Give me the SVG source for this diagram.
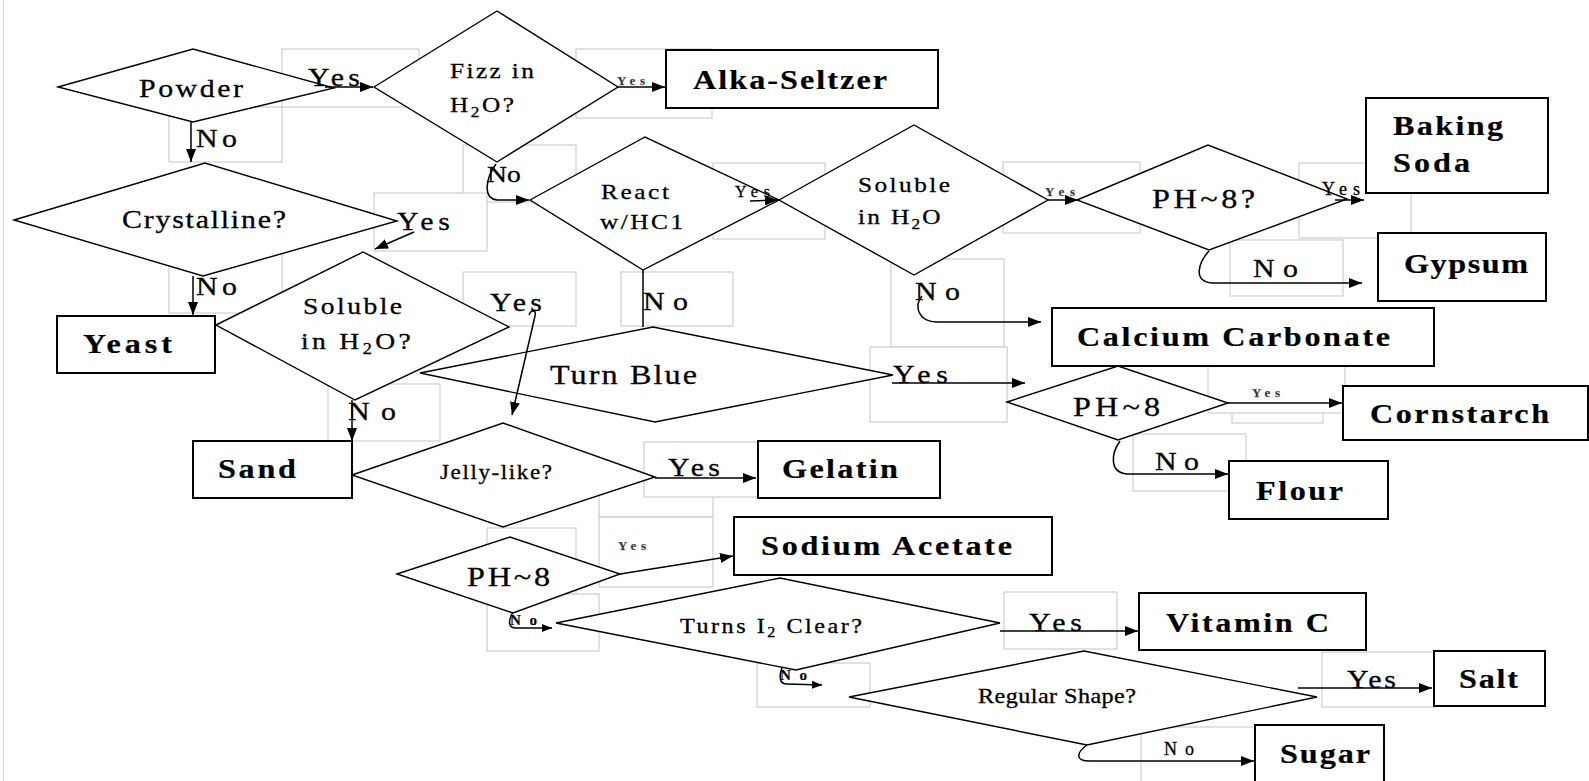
<svg xmlns="http://www.w3.org/2000/svg" width="1589" height="781" viewBox="0 0 1589 781">
<defs>
<style>
.g{fill:#fff;stroke:#c4c4c4;stroke-width:1}
.d{fill:#fff;stroke:#000;stroke-width:1.4}
.n{fill:#fff;stroke:#000;stroke-width:2}
.c{fill:none;stroke:#000;stroke-width:1.5}
.t{font-family:"Liberation Serif","Times New Roman",serif;fill:#000;stroke:#000;stroke-width:0.3}
.b{font-weight:bold;stroke-width:0.2}
.y{fill:#1f2f6f;stroke:#8a6a20;stroke-width:0.25;font-weight:bold}
</style>
<marker id="ah" viewBox="0 0 13 10" refX="13" refY="5" markerWidth="13" markerHeight="10" markerUnits="userSpaceOnUse" orient="auto"><path d="M0,0 L13,5 L0,10 z" fill="#000"/></marker>
<marker id="as" viewBox="0 0 10 8" refX="10" refY="4" markerWidth="10" markerHeight="8" markerUnits="userSpaceOnUse" orient="auto"><path d="M0,0 L10,4 L0,8 z" fill="#000"/></marker>
</defs>
<rect width="1589" height="781" fill="#fff"/>
<line x1="3.5" y1="0" x2="3.5" y2="781" stroke="#d8d8d8" stroke-width="1"/>

<g id="label-boxes">
<rect class="g" x="282" y="49" width="137" height="58"/>
<rect class="g" x="169" y="107" width="113" height="55"/>
<rect class="g" x="576" y="49" width="136" height="69"/>
<rect class="g" x="463" y="145" width="113" height="57"/>
<rect class="g" x="374" y="193" width="113" height="58"/>
<rect class="g" x="713" y="163" width="112" height="76"/>
<rect class="g" x="1003" y="162" width="137" height="71"/>
<rect class="g" x="1299" y="163" width="112" height="75"/>
<rect class="g" x="1230" y="240" width="113" height="56"/>
<rect class="g" x="621" y="272" width="112" height="54"/>
<rect class="g" x="463" y="272" width="113" height="54"/>
<rect class="g" x="169" y="245" width="113" height="68"/>
<rect class="g" x="891" y="259" width="113" height="88"/>
<rect class="g" x="870" y="347" width="137" height="75"/>
<rect class="g" x="328" y="384" width="112" height="57"/>
<rect class="g" x="1232" y="380" width="91" height="43"/>
<rect class="g" x="1208" y="365" width="137" height="48"/>
<rect class="g" x="1133" y="434" width="113" height="57"/>
<rect class="g" x="599" y="480" width="114" height="37"/>
<rect class="g" x="644" y="442" width="116" height="55"/>
<rect class="g" x="599" y="517" width="114" height="70"/>
<rect class="g" x="487" y="528" width="89" height="66"/>
<rect class="g" x="487" y="594" width="112" height="57"/>
<rect class="g" x="1004" y="592" width="113" height="57"/>
<rect class="g" x="757" y="663" width="113" height="44"/>
<rect class="g" x="1322" y="652" width="113" height="55"/>
<rect class="g" x="1141" y="727" width="114" height="60"/>
</g>

<g id="powder"><polygon class="d" points="58,87 193,49 334,88 193,122"/><text class="t" transform="translate(139,97) scale(1.15,1)" font-size="26" textLength="90.4">Powder</text></g>
<g id="fizz"><polygon class="d" points="374,87 497,11 618,87 497,162"/><text class="t" transform="translate(450,78) scale(1.15,1)" font-size="22" textLength="73">Fizz in</text><text class="t" transform="translate(450,112) scale(1.15,1)" font-size="22" letter-spacing="2.2">H<tspan font-size="15" dy="5">2</tspan><tspan dy="-5">O?</tspan></text></g>
<g id="crystalline"><polygon class="d" points="14,220 205,163 397,221 203,276"/><text class="t" transform="translate(122,228) scale(1.15,1)" font-size="26" textLength="142.6">Crystalline?</text></g>
<g id="react"><polygon class="d" points="530,200 645,137 779,200 643,270"/><text class="t" transform="translate(601,199) scale(1.15,1)" font-size="22" textLength="59.1">React</text><text class="t" transform="translate(600,229) scale(1.15,1)" font-size="22" textLength="72.2">w/HC1</text></g>
<g id="soluble1"><polygon class="d" points="779,200 914,125 1048,200 914,275"/><text class="t" transform="translate(858,192) scale(1.15,1)" font-size="22" textLength="80">Soluble</text><text class="t" transform="translate(858,224) scale(1.15,1)" font-size="22" letter-spacing="2">in H<tspan font-size="15" dy="5">2</tspan><tspan dy="-5">O</tspan></text></g>
<g id="ph8q"><polygon class="d" points="1077,200 1208,145 1347,199 1209,250"/><text class="t" transform="translate(1152,208) scale(1.15,1)" font-size="28" textLength="89.6">PH~8?</text></g>
<g id="soluble2"><polygon class="d" points="216,325 363,252 509,327 355,400"/><text class="t" transform="translate(303,314) scale(1.15,1)" font-size="24" textLength="86.1">Soluble</text><text class="t" transform="translate(301,349) scale(1.15,1)" font-size="24" letter-spacing="2.9">in H<tspan font-size="16" dy="5">2</tspan><tspan dy="-5">O?</tspan></text></g>
<g id="turnblue"><polygon class="d" points="420,373 653,327 893,375 655,422"/><text class="t" transform="translate(550,384) scale(1.15,1)" font-size="28" textLength="127.8">Turn Blue</text></g>
<g id="ph8c"><polygon class="d" points="1007,402 1118,366 1228,403 1118,440"/><text class="t" transform="translate(1073,416) scale(1.15,1)" font-size="28" textLength="75.7">PH~8</text></g>
<g id="jelly"><polygon class="d" points="352,475 503,423 655,477 503,527"/><text class="t" transform="translate(440,479) scale(1.15,1)" font-size="20" textLength="97.4">Jelly-like?</text></g>
<g id="ph8b"><polygon class="d" points="397,574 510,537 620,574 513,613"/><text class="t" transform="translate(467,586) scale(1.15,1)" font-size="28" textLength="72.2">PH~8</text></g>
<g id="turns"><polygon class="d" points="556,623 780,578 1000,623 796,670"/><text class="t" transform="translate(680,633) scale(1.15,1)" font-size="21" letter-spacing="2.2">Turns I<tspan font-size="14" dy="4">2</tspan><tspan dy="-4"> Clear?</tspan></text></g>
<g id="regular"><polygon class="d" points="849,697 1084,651 1317,697 1087,745"/><text class="t" transform="translate(978,703) scale(1.15,1)" font-size="21" textLength="137.4">Regular Shape?</text></g>

<g id="alka"><rect class="n" x="666" y="50" width="272" height="58"/><text class="t b" transform="translate(693,89) scale(1.15,1)" font-size="28" textLength="168.7">Alka-Seltzer</text></g>
<g id="baking"><rect class="n" x="1366" y="98" width="182" height="95"/><text class="t b" transform="translate(1393,135) scale(1.15,1)" font-size="28" textLength="95.7">Baking</text><text class="t b" transform="translate(1393,172) scale(1.15,1)" font-size="28" textLength="67">Soda</text></g>
<g id="gypsum"><rect class="n" x="1378" y="233" width="168" height="68"/><text class="t b" transform="translate(1404,273) scale(1.15,1)" font-size="28" textLength="107.8">Gypsum</text></g>
<g id="calcium"><rect class="n" x="1052" y="308" width="382" height="58"/><text class="t b" transform="translate(1077,346) scale(1.15,1)" font-size="28" textLength="272.2">Calcium Carbonate</text></g>
<g id="cornstarch"><rect class="n" x="1343" y="386" width="245" height="54"/><text class="t b" transform="translate(1370,423) scale(1.15,1)" font-size="28" textLength="155.7">Cornstarch</text></g>
<g id="flour"><rect class="n" x="1229" y="461" width="159" height="58"/><text class="t b" transform="translate(1256,500) scale(1.15,1)" font-size="28" textLength="75.7">Flour</text></g>
<g id="yeast"><rect class="n" x="57" y="316" width="158" height="57"/><text class="t b" transform="translate(83,353) scale(1.15,1)" font-size="28" textLength="77.4">Yeast</text></g>
<g id="sand"><rect class="n" x="193" y="441" width="159" height="57"/><text class="t b" transform="translate(218,478) scale(1.15,1)" font-size="28" textLength="67.8">Sand</text></g>
<g id="gelatin"><rect class="n" x="758" y="441" width="182" height="57"/><text class="t b" transform="translate(782,478) scale(1.15,1)" font-size="28" textLength="100.9">Gelatin</text></g>
<g id="sodium"><rect class="n" x="734" y="517" width="318" height="58"/><text class="t b" transform="translate(761,555) scale(1.15,1)" font-size="28" textLength="218.3">Sodium Acetate</text></g>
<g id="vitaminc"><rect class="n" x="1139" y="593" width="227" height="57"/><text class="t b" transform="translate(1166,632) scale(1.15,1)" font-size="28" textLength="141.7">Vitamin C</text></g>
<g id="salt"><rect class="n" x="1434" y="651" width="111" height="55"/><text class="t b" transform="translate(1459,688) scale(1.15,1)" font-size="28" textLength="51.3">Salt</text></g>
<g id="sugar"><rect class="n" x="1255" y="725" width="129" height="62"/><text class="t b" transform="translate(1280,763) scale(1.15,1)" font-size="28" textLength="78.3">Sugar</text></g>

<g id="connectors">
<path class="c" d="M325,87 L373,87" marker-end="url(#ah)"/>
<path class="c" d="M191,122 L191,162" marker-end="url(#ah)"/>
<path class="c" d="M618,87 L665,87" marker-end="url(#ah)"/>
<path class="c" d="M496,164 C486,178 482,198 497,200 L529,200" marker-end="url(#ah)"/>
<path class="c" d="M414,232 L375,249" marker-end="url(#ah)"/>
<path class="c" d="M193,276 L193,315" marker-end="url(#ah)"/>
<path class="c" d="M750,201 L778,200" marker-end="url(#ah)"/>
<path class="c" d="M1048,200 L1078,200" marker-end="url(#ah)"/>
<path class="c" d="M1335,200 L1364,200" marker-end="url(#ah)"/>
<path class="c" d="M1209,251 C1199,262 1192,281 1212,283 L1362,283" marker-end="url(#ah)"/>
<path class="c" d="M643,270 L643,327"/>
<path class="c" d="M529,315 C531,309 537,310 535,316 L512,415" marker-end="url(#ah)"/>
<path class="c" d="M922,296 C914,306 918,322 937,322 L1041,322" marker-end="url(#ah)"/>
<path class="c" d="M892,383 L1025,383" marker-end="url(#ah)"/>
<path class="c" d="M1228,403 L1342,403" marker-end="url(#ah)"/>
<path class="c" d="M1120,441 C1112,452 1108,472 1127,474 L1228,474" marker-end="url(#ah)"/>
<path class="c" d="M352,400 L352,441" marker-end="url(#ah)"/>
<path class="c" d="M655,478 L756,478" marker-end="url(#ah)"/>
<path class="c" d="M620,574 L733,556" marker-end="url(#ah)"/>
<path class="c" d="M513,612 C508,621 508,628 516,628 L552,628" marker-end="url(#as)"/>
<path class="c" d="M1000,631 L1138,631" marker-end="url(#ah)"/>
<path class="c" d="M782,668 C779,676 779,684 787,684 L822,685" marker-end="url(#as)"/>
<path class="c" d="M1298,688 L1432,688" marker-end="url(#ah)"/>
<path class="c" d="M1087,745 C1077,752 1074,761 1090,761 L1254,761" marker-end="url(#ah)"/>
</g>

<g id="connector-labels">
<text class="t" transform="translate(308,86) scale(1.15,1)" font-size="26" textLength="45.2">Yes</text>
<text class="t" transform="translate(196,147) scale(1.15,1)" font-size="26" textLength="35.7">No</text>
<text class="t y" x="617" y="85" font-size="13" textLength="28">Yes</text>
<text class="t" transform="translate(487,182) scale(1.15,1)" font-size="24">No</text>
<text class="t" transform="translate(397,230) scale(1.15,1)" font-size="26" textLength="46">Yes</text>
<text class="t" x="735" y="197" font-size="16" textLength="35">Yes</text>
<text class="t y" x="1045" y="196" font-size="13" textLength="30">Yes</text>
<text class="t" x="1322" y="195" font-size="18" textLength="38">Yes</text>
<text class="t" transform="translate(1253,277) scale(1.15,1)" font-size="26" textLength="39">No</text>
<text class="t" transform="translate(196,295) scale(1.15,1)" font-size="26" textLength="35.7">No</text>
<text class="t" transform="translate(643,310) scale(1.15,1)" font-size="26" textLength="39">No</text>
<text class="t" transform="translate(490,311) scale(1.15,1)" font-size="26" textLength="45.2">Yes</text>
<text class="t" transform="translate(915,300) scale(1.15,1)" font-size="26" textLength="39">No</text>
<text class="t" transform="translate(893,383) scale(1.15,1)" font-size="26" textLength="47.8">Yes</text>
<text class="t y" x="1252" y="397" font-size="13" textLength="28">Yes</text>
<text class="t" transform="translate(1155,470) scale(1.15,1)" font-size="26" textLength="38.3">No</text>
<text class="t" transform="translate(348,420) scale(1.15,1)" font-size="26" textLength="41.7">No</text>
<text class="t" transform="translate(668,476) scale(1.15,1)" font-size="26" textLength="45.2">Yes</text>
<text class="t y" x="618" y="550" font-size="13" textLength="28">Yes</text>
<text class="t b" x="510" y="625" font-size="15" textLength="27">No</text>
<text class="t" transform="translate(1029,631) scale(1.15,1)" font-size="26" textLength="46">Yes</text>
<text class="t b" x="780" y="680" font-size="15" textLength="27">No</text>
<text class="t" transform="translate(1347,688) scale(1.15,1)" font-size="26" textLength="42.6">Yes</text>
<text class="t" x="1164" y="755" font-size="18" textLength="30">No</text>
</g>
</svg>
